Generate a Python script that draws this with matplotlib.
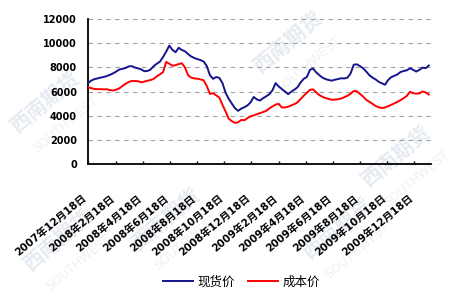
"""
现货价 / 成本价 走势图 (2007.12 - 2010.01)
"""

import matplotlib
matplotlib.use("Agg")
import matplotlib.pyplot as plt
import matplotlib.transforms as mtransforms
import pandas as pd

plt.rcParams["font.family"] = ["DejaVu Sans", "Noto Sans CJK SC"]
plt.rcParams["axes.unicode_minus"] = False

# ──────────────────────────────────────────────
# 数据 (周度, 从图上读取)
# ──────────────────────────────────────────────

START_DATE = "2007-12-18"
END_DATE = "2010-01-24"

SPOT_PRICE = [
    6700, 6900, 7020, 7080, 7150, 7200, 7280, 7380, 7500, 7650,
    7820, 7880, 7950, 8080, 8100, 7980, 7920, 7830, 7680, 7700,
    7820, 8100, 8300, 8470, 8850, 9300, 9800, 9450, 9250, 9620,
    9440, 9330, 9100, 8900, 8780, 8680, 8600, 8480, 8100, 7350,
    7050, 7200, 7130, 6700, 5900, 5400, 5000, 4620, 4400, 4580,
    4700, 4850, 5100, 5550, 5350, 5250, 5450, 5600, 5780, 6100,
    6700, 6420, 6200, 6000, 5780, 5980, 6150, 6350, 6750, 7050,
    7200, 7800, 7900, 7580, 7350, 7150, 7030, 6950, 6900, 6980,
    7030, 7100, 7080, 7150, 7500, 8220, 8250, 8100, 7920, 7650,
    7350, 7150, 7000, 6800, 6680, 6560, 6950, 7190, 7300, 7420,
    7620, 7700, 7760, 7930, 7790, 7650, 7790, 7980, 7930, 8150,
]

COST_PRICE = [
    6350, 6280, 6220, 6190, 6200, 6180, 6190, 6120, 6080, 6150,
    6260, 6450, 6640, 6780, 6880, 6870, 6850, 6760, 6820, 6890,
    6950, 7050, 7250, 7420, 7600, 8450, 8300, 8130, 8180, 8270,
    8340, 8000, 7350, 7150, 7080, 7060, 7000, 6930, 6450, 5800,
    5860, 5680, 5500, 4900, 4350, 3750, 3550, 3400, 3450, 3650,
    3620, 3800, 3950, 4030, 4120, 4210, 4300, 4400, 4600, 4760,
    4920, 4980, 4680, 4680, 4740, 4850, 4960, 5100, 5380, 5650,
    5900, 6140, 6180, 5920, 5700, 5560, 5460, 5380, 5320, 5330,
    5360, 5420, 5530, 5650, 5820, 6050, 6020, 5800, 5580, 5310,
    5150, 4980, 4800, 4700, 4630, 4680, 4780, 4900, 5020, 5150,
    5290, 5450, 5650, 5980, 5860, 5820, 5850, 6000, 5930, 5750,
]

TICK_LABELS = [
    "2007年12月18日", "2008年2月18日", "2008年4月18日", "2008年6月18日",
    "2008年8月18日", "2008年10月18日", "2008年12月18日", "2009年2月18日",
    "2009年4月18日", "2009年6月18日", "2009年8月18日", "2009年10月18日",
    "2009年12月18日",
]

Y_TICKS = [0, 2000, 4000, 6000, 8000, 10000, 12000]

SERIES_NAMES = ["现货价", "成本价"]
SERIES_COLORS = ["#14148c", "#ff0000"]

# 背景水印 (图片坐标, 0~1)
WATERMARK_POS = [(0.10, 0.66), (0.64, 0.86), (0.37, 0.27), (0.75, 0.24),
                 (0.88, 0.48), (0.13, 0.20)]


def add_watermark(fig) -> None:
    for x, y in WATERMARK_POS:
        fig.text(x, y, "西南期货", fontsize=15, fontweight="bold", color="#e6ebf2",
                 rotation=40, ha="center", va="center", zorder=-2,
                 family=["Noto Sans CJK SC"])
        fig.text(x + 0.045, y - 0.075, "SOUTHWEST", fontsize=9, color="#eef1f5",
                 rotation=40, ha="center", va="center", zorder=-2)


def make_chart(out_path: str = "out.png") -> None:
    dates = pd.date_range(START_DATE, periods=len(SPOT_PRICE), freq="7D")
    tick_dates = pd.to_datetime(TICK_LABELS, format="%Y年%m月%d日")

    fig = plt.figure(figsize=(4.5, 3.0), dpi=100, facecolor="#ffffff")
    add_watermark(fig)
    ax = fig.add_axes([0.1956, 0.4533, 0.7622, 0.4833])
    ax.set_facecolor("none")

    for values, name, color in zip([SPOT_PRICE, COST_PRICE], SERIES_NAMES, SERIES_COLORS):
        ax.plot(dates, values, color=color, linewidth=1.4, label=name, zorder=3)

    # 坐标轴范围
    ax.set_xlim(pd.Timestamp(START_DATE), pd.Timestamp(END_DATE))
    ax.set_ylim(0, 12000)

    # Y轴
    ax.set_yticks(Y_TICKS)
    ax.set_yticklabels([str(v) for v in Y_TICKS], fontsize=7, fontweight="bold")
    ax.tick_params(axis="y", length=0, pad=8)

    # X轴: 刻度向内, 斜标签用 ax.text 画
    ax.set_xticks(tick_dates)
    ax.set_xticklabels([])
    ax.tick_params(axis="x", direction="in", length=2.5, width=1)
    offset = mtransforms.ScaledTranslation(-6 / 100, -29 / 100, fig.dpi_scale_trans)
    trans = ax.get_xaxis_transform() + offset
    for d, label in zip(tick_dates, TICK_LABELS):
        ax.text(d, 0, label, transform=trans, fontsize=7.5, fontweight="bold",
                rotation=40, rotation_mode="anchor", ha="right", va="top",
                clip_on=False)

    # 网格
    ax.grid(axis="y", linestyle=(0, (4, 4)), linewidth=0.8, color="#a0a0a0", zorder=0)
    ax.set_axisbelow(True)

    # 边框
    for side in ["top", "right"]:
        ax.spines[side].set_visible(False)
    for side in ["left", "bottom"]:
        ax.spines[side].set_linewidth(1.3)
        ax.spines[side].set_color("#000000")

    # 图例
    fig.legend(loc="center", bbox_to_anchor=(0.537, 0.06), ncol=2, frameon=False,
               prop={"family": ["Noto Sans CJK SC"], "size": 9},
               handlelength=2.4, handletextpad=0.4, columnspacing=1.0)

    fig.savefig(out_path, dpi=100, facecolor="#ffffff")
    plt.close(fig)


if __name__ == "__main__":
    make_chart()
